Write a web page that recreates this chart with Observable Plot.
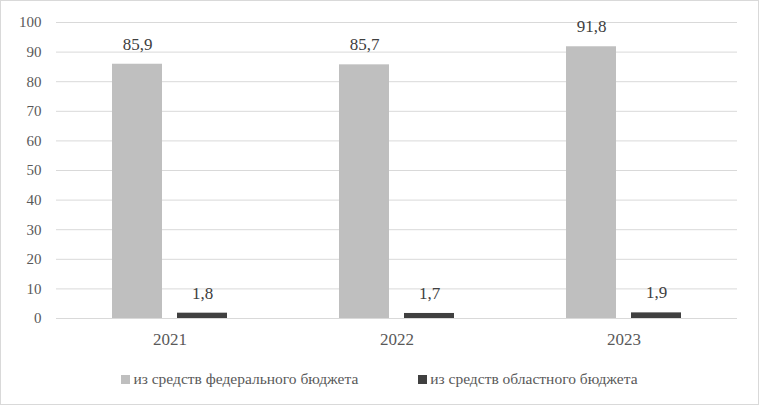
<!DOCTYPE html>
<html>
<head>
<meta charset="utf-8">
<script src="https://cdn.jsdelivr.net/npm/d3@7"></script>
<script src="https://cdn.jsdelivr.net/npm/@observablehq/plot@0.6"></script>
<style>
  html, body { margin: 0; padding: 0; background: #fff; }
  #wrap { position: relative; width: 757px; height: 403px; border: 1px solid #d9d9d9; overflow: hidden;
          font-family: "Liberation Serif", "Times New Roman", Times, "DejaVu Serif", "Noto Serif", serif; }
  #legend { position: absolute; top: 369px; left: 0; width: 757px; display: flex; justify-content: center; gap: 60px;
            font-size: 15.5px; color: #595959; }
  #legend span.item { display: flex; align-items: center; }
  #legend span.sw { display: inline-block; width: 9px; height: 9px; margin-right: 3px; }
</style>
</head>
<body>
<div id="wrap">
  <div id="chart"></div>
  <div id="legend"></div>
</div>
<script>
const years = ["2021", "2022", "2023"];
const seriesNames = ["из средств федерального бюджета", "из средств областного бюджета"];
const federal = [85.9, 85.7, 91.8];
const regional = [1.8, 1.7, 1.9];
const seriesColors = ["#bfbfbf", "#404040"];
const yTicks = [0, 10, 20, 30, 40, 50, 60, 70, 80, 90, 100];

const data = [];
years.forEach((y, i) => {
  data.push({year: y, series: seriesNames[0], value: federal[i]});
  data.push({year: y, series: seriesNames[1], value: regional[i]});
});
const fmt = v => v.toFixed(1).replace(".", ",");
const serif = "'Liberation Serif', 'Times New Roman', Times, 'DejaVu Serif', 'Noto Serif', serif";

const chart = Plot.plot({
  width: 757,
  height: 350,
  marginLeft: 54,
  marginRight: 21,
  marginTop: 21,
  marginBottom: 33,
  style: {fontFamily: serif, fontSize: "15px", color: "#595959", background: "transparent"},
  fx: {domain: years, padding: 0, label: null, axis: null},
  x: {domain: seriesNames, paddingInner: 0.23, paddingOuter: 0.86, axis: null},
  y: {domain: [0, 100], label: null},
  color: {domain: seriesNames, range: seriesColors},
  marks: [
    Plot.gridY(yTicks, {stroke: "#d9d9d9", strokeOpacity: 1, strokeWidth: 1}),
    Plot.axisY(yTicks, {tickSize: 0, tickPadding: 15, fontSize: 15, fill: "#595959", label: null, fontFamily: serif}),
    Plot.axisFx({anchor: "bottom", tickSize: 0, tickPadding: 14, fontSize: 17, fill: "#595959", label: null, fontFamily: serif}),
    Plot.ruleY([0], {stroke: "#d9d9d9", strokeWidth: 1}),
    Plot.barY(data, {fx: "year", x: "series", y: "value", fill: "series"}),
    Plot.text(data, {fx: "year", x: "series", y: "value", text: d => fmt(d.value), dy: -20, fontSize: 17, fill: "#404040", fontFamily: serif})
  ]
});
document.getElementById("chart").appendChild(chart);

const legend = document.getElementById("legend");
seriesNames.forEach((s, i) => {
  const item = document.createElement("span");
  item.className = "item";
  const sw = document.createElement("span");
  sw.className = "sw";
  sw.style.background = seriesColors[i];
  item.appendChild(sw);
  item.appendChild(document.createTextNode(s));
  legend.appendChild(item);
});
</script>
</body>
</html>
